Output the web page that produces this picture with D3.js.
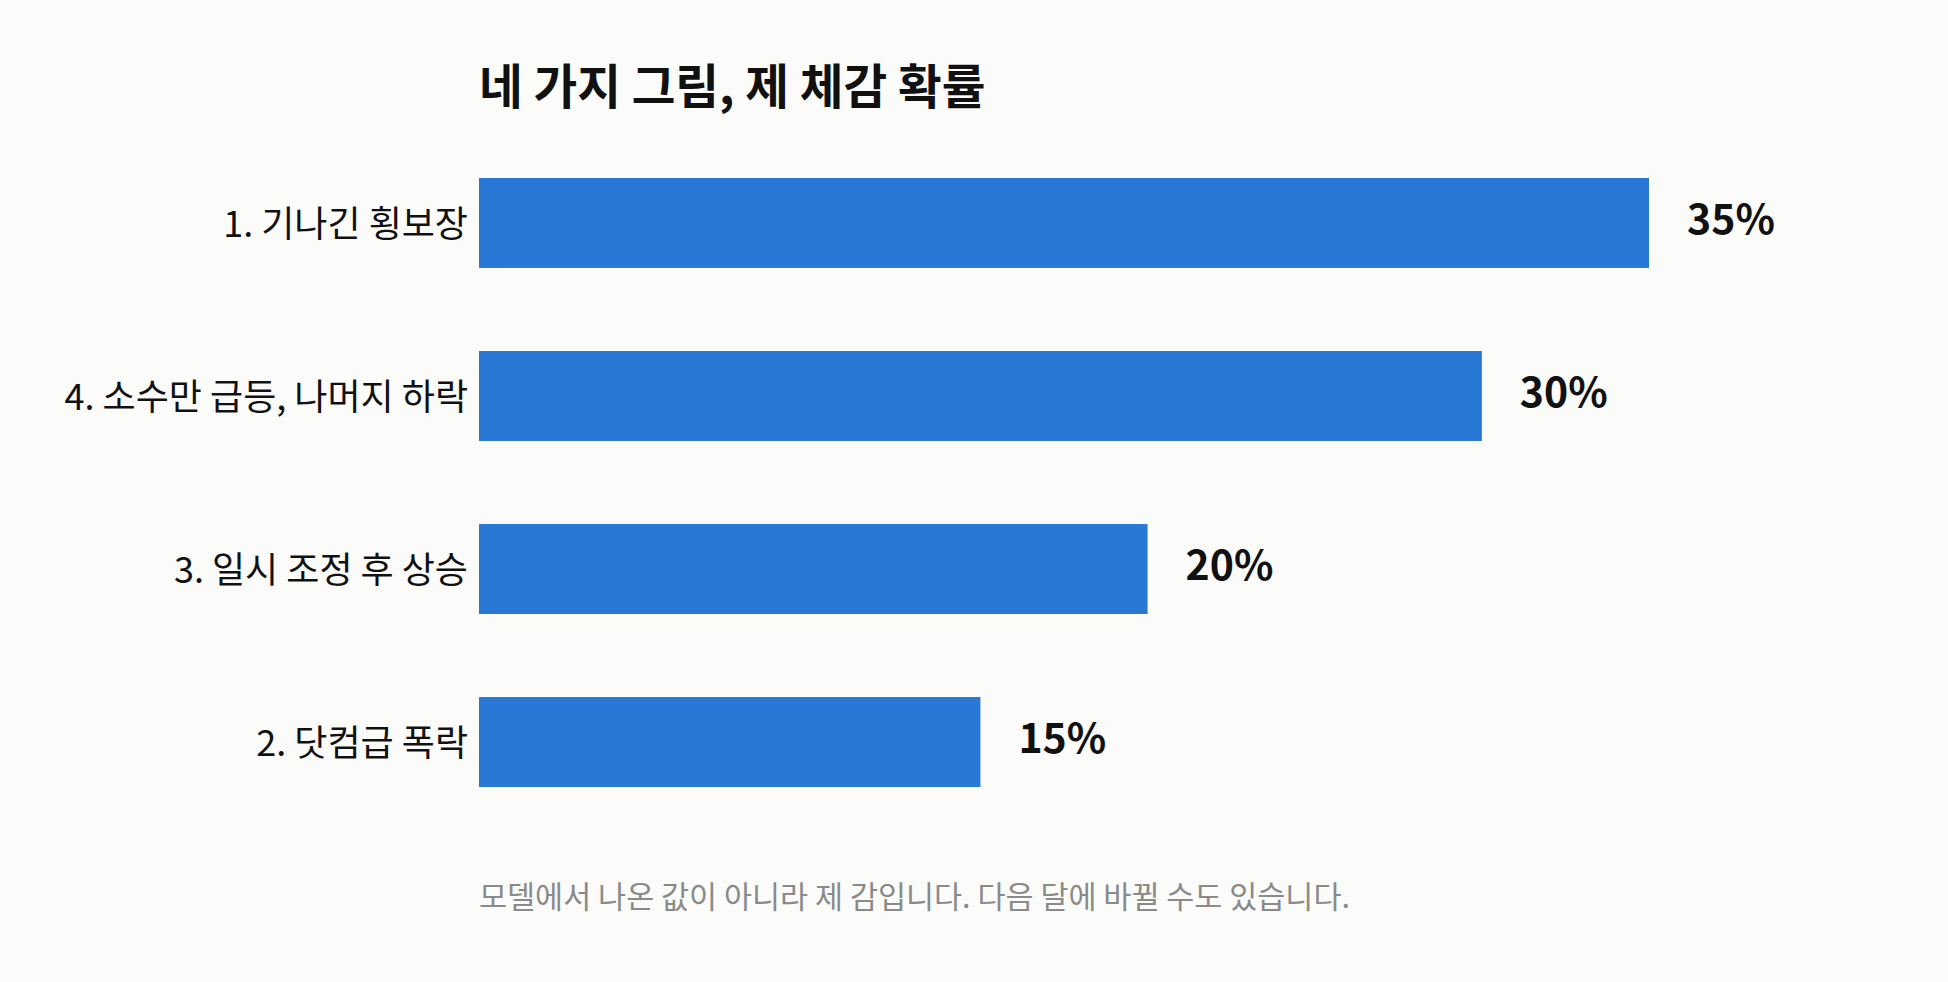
<!DOCTYPE html>
<html>
<head>
<meta charset="utf-8">
<script src="https://cdn.jsdelivr.net/npm/d3@7"></script>
<style>
  html, body { margin: 0; padding: 0; background: #fbfbf9; }
  svg { display: block; font-family: "Noto Sans CJK KR", "Noto Sans", sans-serif; }
</style>
</head>
<body>
<div id="chart"></div>
<script>
// chart data
var categories = ["1. 기나긴 횡보장", "4. 소수만 급등, 나머지 하락", "3. 일시 조정 후 상승", "2. 닷컴급 폭락"];
var values = [35, 30, 20, 15];
var titleText = "네 가지 그림, 제 체감 확률";
var noteText = "모델에서 나온 값이 아니라 제 감입니다. 다음 달에 바뀔 수도 있습니다.";

var width = 1948, height = 982;
var plotLeft = 479, plotTop = 178;

var svg = d3.select("#chart").append("svg")
    .attr("width", width)
    .attr("height", height);

svg.append("rect")
    .attr("width", width).attr("height", height)
    .attr("fill", "#fbfbf9");

var x = d3.scaleLinear().domain([0, 35]).range([plotLeft, 1649]);
var y = d3.scaleBand().domain(categories).range([plotTop, 787]).paddingInner(0.48).paddingOuter(0);

svg.append("text")
    .attr("x", plotLeft)
    .attr("y", 104)
    .attr("font-size", 47.5)
    .attr("font-weight", 700)
    .attr("fill", "#111")
    .text(titleText);

var rows = svg.append("g").selectAll("g")
    .data(categories.map(function(c, i) { return { cat: c, val: values[i] }; }))
    .enter().append("g");

rows.append("rect")
    .attr("x", x(0))
    .attr("y", function(d) { return y(d.cat); })
    .attr("width", function(d) { return x(d.val) - x(0); })
    .attr("height", y.bandwidth())
    .attr("fill", "#2a78d6");

rows.append("text")
    .attr("x", x(0) - 11)
    .attr("y", function(d) { return y(d.cat) + y.bandwidth() / 2; })
    .attr("dy", "0.40em")
    .attr("text-anchor", "end")
    .attr("font-size", 36)
    .attr("fill", "#111")
    .text(function(d) { return d.cat; });

rows.append("text")
    .attr("x", function(d) { return x(d.val) + 38; })
    .attr("y", function(d) { return y(d.cat) + y.bandwidth() / 2; })
    .attr("dy", "0.28em")
    .attr("font-size", 41)
    .attr("font-weight", 700)
    .attr("fill", "#111")
    .text(function(d) { return d.val + "%"; });

svg.append("text")
    .attr("x", plotLeft)
    .attr("y", 908)
    .attr("font-size", 30.5)
    .attr("fill", "#8a8a8a")
    .text(noteText);
</script>
</body>
</html>
